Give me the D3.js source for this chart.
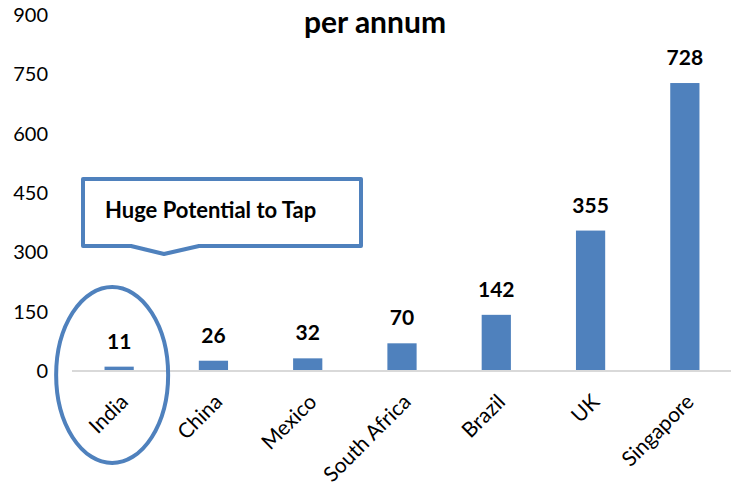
<!DOCTYPE html>
<html>
<head>
<meta charset="utf-8">
<script src="https://cdn.jsdelivr.net/npm/d3@7"></script>
<style>
  html, body { margin: 0; padding: 0; background: #fff; }
  svg { display: block; font-family: Lato, "Open Sans", sans-serif; }
</style>
</head>
<body>
<svg id="chart" width="731" height="487"></svg>
<script>
// Values per country, read as the bar labels state them
const countries = ["India", "China", "Mexico", "South Africa", "Brazil", "UK", "Singapore"];
const values = [11, 26, 32, 70, 142, 355, 728];
const yTicks = [0, 150, 300, 450, 600, 750, 900];
const titleLine = "per annum";
const calloutText = "Huge Potential to Tap";

const blue = "#4f81bd";
const svg = d3.select("#chart");

const x = d3.scaleBand().domain(countries).range([72, 732]).paddingInner(0.69).paddingOuter(0.345);
const y = d3.scaleLinear().domain([0, 900]).range([371, 15]);

// Y axis labels (no line, no tick marks)
svg.append("g").selectAll("text").data(yTicks).join("text")
  .attr("x", 48).attr("y", d => y(d)).attr("dy", "0.35em")
  .attr("text-anchor", "end").attr("font-size", 20).attr("fill", "#000")
  .text(d => d);

// Bars
svg.append("g").selectAll("rect").data(values).join("rect")
  .attr("x", (d, i) => x(countries[i]))
  .attr("width", x.bandwidth())
  .attr("y", d => y(d))
  .attr("height", d => y(0) - y(d))
  .attr("fill", blue);

// Baseline
svg.append("line").attr("x1", 72).attr("x2", 731)
  .attr("y1", y(0)).attr("y2", y(0))
  .attr("stroke", "#d9d9d9").attr("stroke-width", 2);

// Value labels
svg.append("g").selectAll("text").data(values).join("text")
  .attr("x", (d, i) => x(countries[i]) + x.bandwidth() / 2)
  .attr("y", d => y(d) - 18)
  .attr("text-anchor", "middle").attr("font-size", 21).attr("font-weight", "bold")
  .text(d => d);

// Category labels, rotated
svg.append("g").selectAll("text").data(countries).join("text")
  .attr("transform", d => `translate(${x(d) + x.bandwidth() / 2 + 5},${y(0) + 27}) rotate(-45)`)
  .attr("text-anchor", "end").attr("dy", "0.35em").attr("font-size", 21)
  .text(d => d);

// Title (second line)
svg.append("text").attr("x", 375).attr("y", 33)
  .attr("text-anchor", "middle").attr("font-size", 30).attr("font-weight", "bold")
  .text(titleLine);

// Callout box with downward pointer
const cx0 = 83, cx1 = 361, cy0 = 179, cy1 = 246, px0 = 131, px1 = 199, tipX = 164, tipY = 254;
svg.append("path")
  .attr("d", `M${cx0},${cy0} H${cx1} V${cy1} H${px1} L${tipX},${tipY} L${px0},${cy1} H${cx0} Z`)
  .attr("fill", "#fff").attr("stroke", blue).attr("stroke-width", 4).attr("stroke-linejoin", "round");
svg.append("text").attr("x", 105).attr("y", 218)
  .attr("font-size", 22).attr("font-weight", "bold").text(calloutText);

// Ellipse highlighting the first category
svg.append("ellipse")
  .attr("cx", x("India") + x.bandwidth() / 2 - 7).attr("cy", 375)
  .attr("rx", 56).attr("ry", 88)
  .attr("fill", "none").attr("stroke", blue).attr("stroke-width", 4);
</script>
</body>
</html>
